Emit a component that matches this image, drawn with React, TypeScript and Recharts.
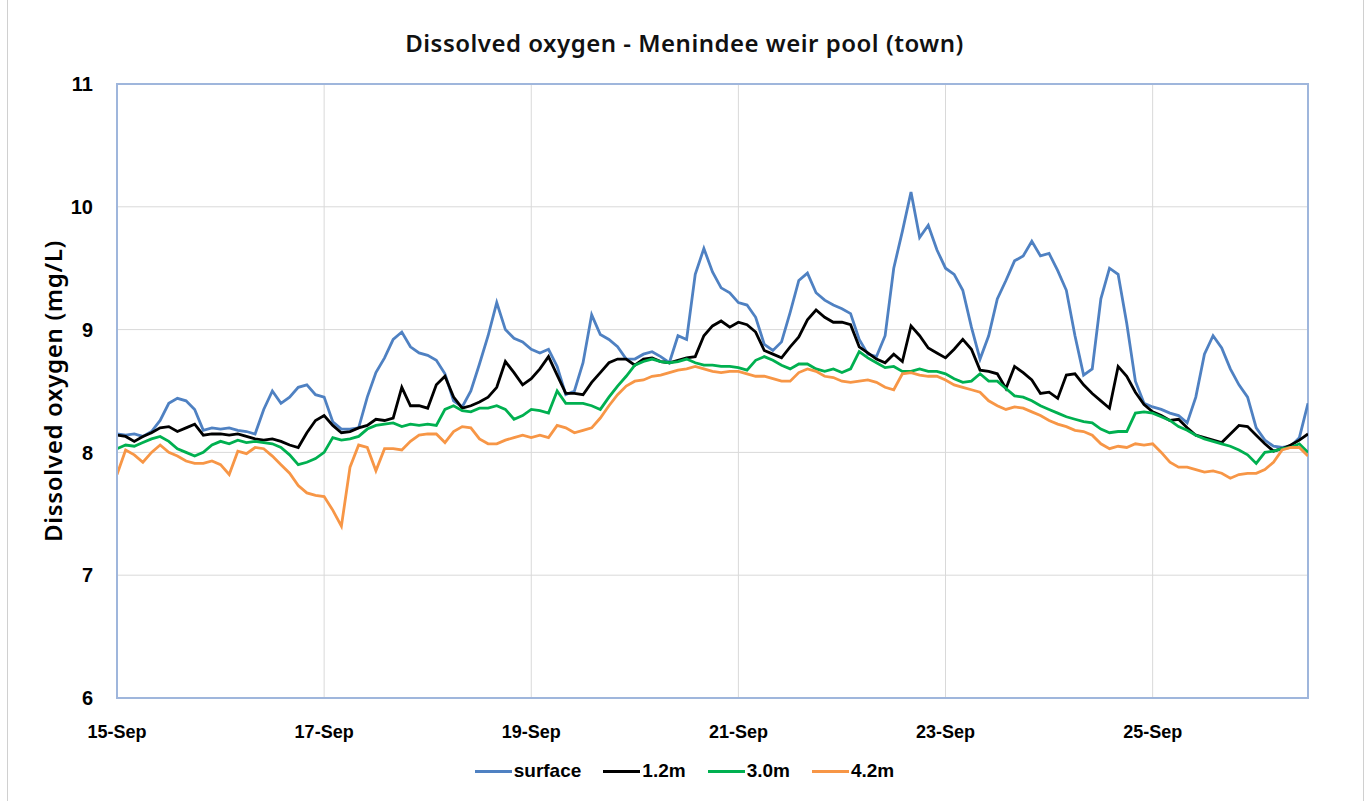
import { CartesianGrid, Legend, Line, LineChart, ReferenceArea, XAxis, YAxis } from "recharts"

// 2-hourly readings from 15-Sep 00:00 to 26-Sep 12:00
const surface = [
  8.15, 8.14, 8.15, 8.13, 8.17, 8.26, 8.4, 8.44, 8.42, 8.35, 8.18, 8.2,
  8.19, 8.2, 8.18, 8.17, 8.15, 8.35, 8.5, 8.4, 8.45, 8.53, 8.55, 8.47,
  8.45, 8.25, 8.19, 8.19, 8.2, 8.45, 8.65, 8.77, 8.92, 8.98, 8.86, 8.81,
  8.79, 8.75, 8.64, 8.42, 8.37, 8.5, 8.72, 8.95, 9.22, 9.0, 8.93, 8.9,
  8.84, 8.81, 8.84, 8.7, 8.47, 8.5, 8.73, 9.12, 8.96, 8.92, 8.86, 8.76,
  8.76, 8.8, 8.82, 8.78, 8.73, 8.95, 8.92, 9.45, 9.66, 9.47, 9.34, 9.3,
  9.22, 9.2, 9.1, 8.88, 8.83, 8.9, 9.14, 9.4, 9.46, 9.3, 9.24, 9.2,
  9.17, 9.13, 8.92, 8.8, 8.78, 8.95, 9.5, 9.8, 10.12, 9.75, 9.85, 9.65,
  9.5, 9.45, 9.32, 9.02, 8.76, 8.95, 9.25, 9.4, 9.56, 9.6, 9.72, 9.6,
  9.62, 9.48, 9.32, 8.95, 8.63, 8.68, 9.25, 9.5, 9.45, 9.05, 8.58, 8.4,
  8.37, 8.35, 8.32, 8.3, 8.24, 8.45, 8.8, 8.95, 8.85, 8.68, 8.55, 8.45,
  8.2, 8.1, 8.05, 8.04, 8.05, 8.12, 8.4,
]

const depth12 = [
  8.14, 8.13, 8.09, 8.13, 8.16, 8.2, 8.21, 8.17, 8.2, 8.23, 8.14, 8.15,
  8.15, 8.14, 8.15, 8.13, 8.11, 8.1, 8.11, 8.09, 8.06, 8.04, 8.16, 8.26,
  8.3, 8.22, 8.16, 8.17, 8.2, 8.22, 8.27, 8.26, 8.28, 8.53, 8.38, 8.38,
  8.36, 8.55, 8.62, 8.45, 8.36, 8.38, 8.41, 8.45, 8.53, 8.74, 8.65, 8.55,
  8.6, 8.68, 8.78, 8.63, 8.48, 8.48, 8.47, 8.57, 8.65, 8.73, 8.76, 8.76,
  8.71, 8.76, 8.77, 8.74, 8.73, 8.75, 8.77, 8.78, 8.95, 9.03, 9.07, 9.02,
  9.06, 9.04, 8.98, 8.83, 8.8, 8.77, 8.86, 8.94, 9.08, 9.16, 9.1, 9.06,
  9.06, 9.04, 8.86, 8.81, 8.76, 8.73, 8.8, 8.74, 9.03, 8.95, 8.85, 8.81,
  8.77, 8.84, 8.92, 8.84, 8.67, 8.66, 8.64, 8.52, 8.7, 8.65, 8.59, 8.48,
  8.49, 8.44, 8.63, 8.64, 8.55, 8.48, 8.42, 8.36, 8.7, 8.62, 8.49, 8.39,
  8.33, 8.3, 8.26, 8.27, 8.2, 8.14, 8.12, 8.1, 8.08, 8.15, 8.22, 8.21,
  8.14, 8.07, 8.01, 8.03, 8.06, 8.1, 8.15,
]

const depth30 = [
  8.03, 8.06, 8.05, 8.08, 8.11, 8.13, 8.09, 8.03, 8.0, 7.97, 8.0, 8.06,
  8.09, 8.07, 8.1, 8.08, 8.09, 8.08, 8.07, 8.04, 7.98, 7.9, 7.92, 7.95,
  8.0, 8.12, 8.1, 8.11, 8.13, 8.19, 8.22, 8.23, 8.24, 8.21, 8.23, 8.22,
  8.23, 8.22, 8.35, 8.38, 8.34, 8.33, 8.36, 8.36, 8.38, 8.35, 8.27, 8.3,
  8.35, 8.34, 8.32, 8.5, 8.4, 8.4, 8.4, 8.38, 8.35, 8.45, 8.54, 8.62,
  8.71, 8.74, 8.76, 8.74, 8.73, 8.74, 8.76, 8.73, 8.71, 8.71, 8.7, 8.7,
  8.69, 8.67, 8.75, 8.78, 8.75, 8.71, 8.68, 8.72, 8.72, 8.68, 8.66, 8.68,
  8.65, 8.68, 8.82, 8.77, 8.73, 8.69, 8.7, 8.66, 8.66, 8.68, 8.66, 8.66,
  8.64, 8.6, 8.57, 8.58, 8.64, 8.58, 8.58, 8.52, 8.46, 8.45, 8.42, 8.38,
  8.35, 8.32, 8.29, 8.27, 8.25, 8.24, 8.19, 8.16, 8.17, 8.17, 8.32, 8.33,
  8.32, 8.29, 8.26, 8.21, 8.18, 8.14, 8.11, 8.09, 8.07, 8.05, 8.02, 7.98,
  7.91, 8.0, 8.01, 8.03, 8.04, 8.07, 8.0,
]

const depth42 = [
  7.82, 8.02, 7.98, 7.92, 8.0, 8.06, 8.0, 7.97, 7.93, 7.91, 7.91, 7.93,
  7.9, 7.82, 8.01, 7.99, 8.04, 8.03, 7.97, 7.9, 7.83, 7.73, 7.67, 7.65,
  7.64, 7.53, 7.4, 7.88, 8.06, 8.04, 7.85, 8.03, 8.03, 8.02, 8.09, 8.14,
  8.15, 8.15, 8.08, 8.17, 8.21, 8.2, 8.11, 8.07, 8.07, 8.1, 8.12, 8.14,
  8.12, 8.14, 8.12, 8.22, 8.2, 8.16, 8.18, 8.2, 8.28, 8.38, 8.47, 8.54,
  8.58, 8.59, 8.62, 8.63, 8.65, 8.67, 8.68, 8.7, 8.68, 8.66, 8.65, 8.66,
  8.66, 8.64, 8.62, 8.62, 8.6, 8.58, 8.58, 8.65, 8.68, 8.66, 8.62, 8.61,
  8.58, 8.57, 8.58, 8.59, 8.57, 8.53, 8.51, 8.64, 8.65, 8.63, 8.62, 8.62,
  8.59, 8.55, 8.53, 8.51, 8.49, 8.42, 8.38, 8.35, 8.37, 8.36, 8.33, 8.3,
  8.26, 8.23, 8.21, 8.18, 8.17, 8.14, 8.07, 8.03, 8.05, 8.04, 8.07, 8.06,
  8.07, 8.0, 7.92, 7.88, 7.88, 7.86, 7.84, 7.85, 7.83, 7.79, 7.82, 7.83,
  7.83, 7.86, 7.92, 8.02, 8.04, 8.04, 7.97,
]

const dayTicks = [0, 2, 4, 6, 8, 10]
const dayLabels = ["15-Sep", "17-Sep", "19-Sep", "21-Sep", "23-Sep", "25-Sep"]
const yTicks = [6, 7, 8, 9, 10, 11]

const series = [
  { key: "surface", name: "surface", color: "#4f81c2" },
  { key: "d12", name: "1.2m", color: "#000000" },
  { key: "d30", name: "3.0m", color: "#00b050" },
  { key: "d42", name: "4.2m", color: "#f79646" },
]

// x value in days since 15-Sep 00:00 (one reading every 2 hours)
const data = surface.map((v, i) => ({
  t: i / 12,
  surface: v,
  d12: depth12[i],
  d30: depth30[i],
  d42: depth42[i],
}))

const BOLD = "Liberation Sans, Arial, sans-serif"
const xTickFont = { fontFamily: BOLD, fontSize: 18, fontWeight: 700, fill: "#000" }
const yTickFont = { fontFamily: BOLD, fontSize: 20, fontWeight: 700, fill: "#000" }

function LegendContent() {
  return (
    <div style={{ display: "flex", justifyContent: "center", gap: 22, fontFamily: BOLD, fontSize: 19, fontWeight: 700 }}>
      {series.map((s) => (
        <div key={s.key} style={{ display: "flex", alignItems: "center" }}>
          <span style={{ display: "inline-block", width: 37, height: 3, background: s.color, marginRight: 2 }} />
          <span style={{ color: "#000" }}>{s.name}</span>
        </div>
      ))}
    </div>
  )
}

export default function App() {
  return (
    <div style={{ position: "absolute", left: 0, top: 0, width: 1369, height: 801, background: "#fff" }}>
      <div
        style={{
          position: "absolute",
          left: 7,
          top: 0,
          width: 1355,
          height: 801,
          borderLeft: "1px solid #d0d0d0",
          borderRight: "1px solid #d0d0d0",
        }}
      />
      <div
        style={{
          position: "absolute",
          top: 26,
          left: 0,
          width: 1369,
          textAlign: "center",
          fontFamily: "Noto Sans, sans-serif",
          fontWeight: 600,
          fontSize: 24,
          letterSpacing: 0.5,
          color: "#111",
        }}
      >
        Dissolved oxygen - Menindee weir pool (town)
      </div>
      <LineChart
        width={1369}
        height={801}
        data={data}
        margin={{ top: 84, right: 61, left: 57, bottom: 37 }}
        style={{ position: "absolute", left: 0, top: 0 }}
      >
        <CartesianGrid stroke="#d9d9d9" strokeWidth={1} />
        <XAxis
          dataKey="t"
          type="number"
          domain={[0, 11.5]}
          ticks={dayTicks}
          tickFormatter={(v: number) => dayLabels[dayTicks.indexOf(v)]}
          tick={xTickFont}
          tickLine={false}
          axisLine={{ stroke: "#9fb6dc", strokeWidth: 2 }}
          tickMargin={21}
          height={44}
          allowDataOverflow
        />
        <YAxis
          type="number"
          domain={[6, 11]}
          ticks={yTicks}
          tick={yTickFont}
          tickLine={false}
          axisLine={{ stroke: "#9fb6dc", strokeWidth: 2 }}
          tickMargin={18}
          width={60}
          label={{
            value: "Dissolved oxygen (mg/L)",
            angle: -90,
            position: "left",
            offset: 4,
            style: {
              fontFamily: "Noto Sans, sans-serif",
              fontSize: 24,
              fontWeight: 600,
              letterSpacing: 0.7,
              fill: "#000",
              textAnchor: "middle",
            },
          }}
        />
        <ReferenceArea x1={0} x2={11.5} y1={6} y2={11} fill="none" stroke="#9fb6dc" strokeWidth={2} />
        <Legend
          verticalAlign="bottom"
          align="center"
          content={LegendContent}
          wrapperStyle={{ top: 760, left: 0, width: 1369 }}
        />
        {series.map((s) => (
          <Line
            key={s.key}
            type="linear"
            dataKey={s.key}
            name={s.name}
            stroke={s.color}
            strokeWidth={2.8}
            dot={false}
            isAnimationActive={false}
          />
        ))}
      </LineChart>
    </div>
  )
}
